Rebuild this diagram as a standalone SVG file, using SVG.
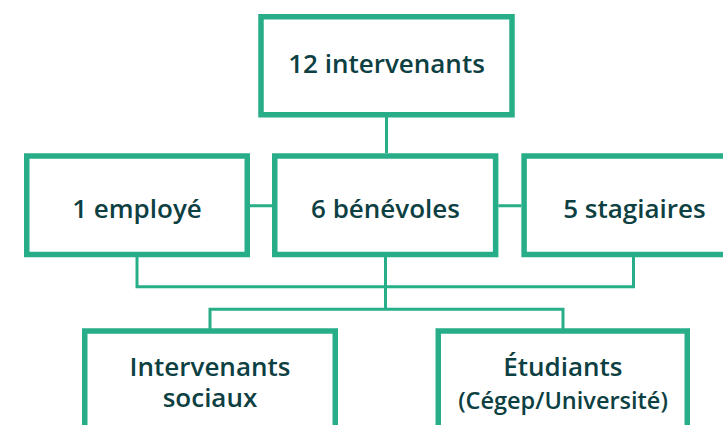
<svg xmlns="http://www.w3.org/2000/svg" width="723" height="425" viewBox="0 0 723 425">
<style>
.box{fill:#ffffff;stroke:#27ae88;stroke-width:5.5}
.conn{fill:none;stroke:#27ae88;stroke-width:3}
.t{font-family:"Open Sans","Noto Sans",sans-serif;font-weight:600;font-size:26px;fill:#0d4042;text-anchor:middle}
.s{font-size:23.5px}
</style>
<rect width="723" height="425" fill="#ffffff"/>
<g id="connectors">
<path class="conn" d="M386.5 117V153"/>
<path class="conn" d="M250 205.7H272M498.4 205.7H521.4"/>
<path class="conn" d="M137 257V286.7H633.5V257M385.5 257V309.3"/>
<path class="conn" d="M210 330V309.3H563V330"/>
</g>
<g id="n-top">
<rect class="box" x="261" y="16.75" width="251" height="98"/>
<text class="t" x="386.5" y="72.5">12 intervenants</text>
</g>
<g id="n-employe">
<rect class="box" x="26.75" y="156" width="220.5" height="98.5"/>
<text class="t" x="137" y="217.7">1 employé</text>
</g>
<g id="n-benevoles">
<rect class="box" x="274.75" y="156" width="220.9" height="98.5"/>
<text class="t" x="385.5" y="217.7">6 bénévoles</text>
</g>
<g id="n-stagiaires">
<rect class="box" x="524.1" y="156" width="220.5" height="98.5"/>
<text class="t" x="634.4" y="217.7">5 stagiaires</text>
</g>
<g id="n-intervenants-sociaux">
<rect class="box" x="84.75" y="331" width="250.5" height="120"/>
<text class="t" x="210" y="376">Intervenants<tspan x="210" dy="31">sociaux</tspan></text>
</g>
<g id="n-etudiants">
<rect class="box" x="438.25" y="331" width="249" height="120"/>
<text class="t" x="562.8" y="376">Étudiants<tspan class="s" x="563" dy="33">(Cégep/Université)</tspan></text>
</g>
</svg>
